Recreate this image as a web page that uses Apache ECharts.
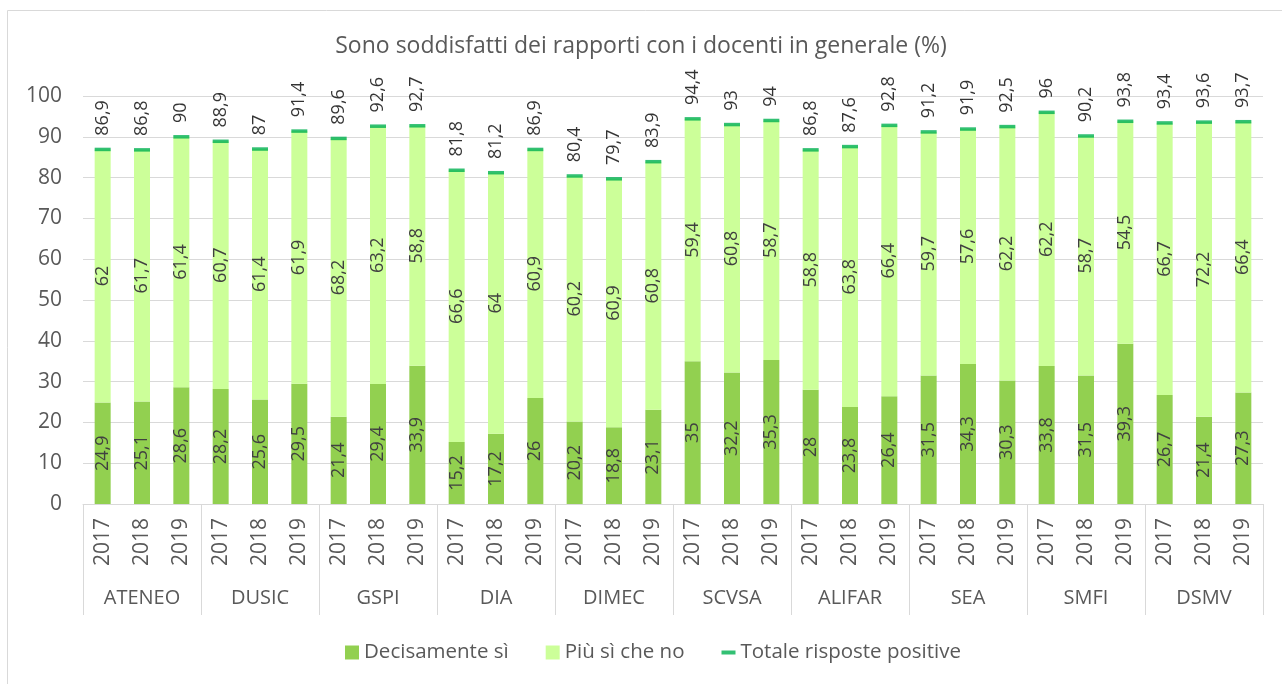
<!DOCTYPE html>
<html>
<head>
<meta charset="utf-8">
<script src="https://cdn.jsdelivr.net/npm/echarts@6/dist/echarts.min.js"></script>
<style>
  html, body { margin: 0; padding: 0; background: #fff; }
  #main { width: 1282px; height: 684px; }
</style>
</head>
<body>
<div id="main"></div>
<script>
    // dipartimenti e anni
    var groups = ['ATENEO', 'DUSIC', 'GSPI', 'DIA', 'DIMEC', 'SCVSA', 'ALIFAR', 'SEA', 'SMFI', 'DSMV'];
    var years = ['2017', '2018', '2019'];

    // valori per ogni coppia dipartimento / anno
    var decisamente = [24.9, 25.1, 28.6, 28.2, 25.6, 29.5, 21.4, 29.4, 33.9, 15.2, 17.2, 26,
        20.2, 18.8, 23.1, 35, 32.2, 35.3, 28, 23.8, 26.4, 31.5, 34.3, 30.3,
        33.8, 31.5, 39.3, 26.7, 21.4, 27.3];
    var piuSi = [62, 61.7, 61.4, 60.7, 61.4, 61.9, 68.2, 63.2, 58.8, 66.6, 64, 60.9,
        60.2, 60.9, 60.8, 59.4, 60.8, 58.7, 58.8, 63.8, 66.4, 59.7, 57.6, 62.2,
        62.2, 58.7, 54.5, 66.7, 72.2, 66.4];
    var totale = [86.9, 86.8, 90, 88.9, 87, 91.4, 89.6, 92.6, 92.7, 81.8, 81.2, 86.9,
        80.4, 79.7, 83.9, 94.4, 93, 94, 86.8, 87.6, 92.8, 91.2, 91.9, 92.5,
        96, 90.2, 93.8, 93.4, 93.6, 93.7];

    var yearLabels = [];
    groups.forEach(function () {
        years.forEach(function (y) { yearLabels.push(y); });
    });

    var FONT = 'Open Sans';
    var fmt = function (p) { return String(p.value).replace('.', ','); };

    var chartDom = document.getElementById('main');
    var myChart = echarts.init(chartDom);
    var option;

    option = {
        textStyle: { fontFamily: FONT },
        animation: false,
        title: {
            text: 'Sono soddisfatti dei rapporti con i docenti in generale (%)',
            left: 'center',
            top: 30,
            textStyle: { fontFamily: FONT, fontSize: 23, fontWeight: 'normal', color: '#595959' }
        },
        graphic: [
            {
                type: 'rect',
                shape: { x: 7.5, y: 10.5, width: 1300, height: 700 },
                style: { fill: 'none', stroke: '#d9d9d9', lineWidth: 1 },
                silent: true
            }
        ],
        legend: {
            top: 637,
            left: 340,
            itemWidth: 14,
            itemHeight: 14,
            itemGap: 37,
            textStyle: { fontFamily: FONT, fontSize: 20.5, color: '#595959' },
            data: [
                { name: 'Decisamente sì', icon: 'rect' },
                { name: 'Più sì che no', icon: 'rect' },
                { name: 'Totale risposte positive', icon: 'path://M0,0M0,5h14v4h-14zM14,14' }
            ]
        },
        grid: { left: 83, right: 19, top: 96, bottom: 180 },
        xAxis: [
            {
                type: 'category',
                data: yearLabels,
                axisLine: { lineStyle: { color: '#d9d9d9' } },
                axisTick: { show: false },
                axisLabel: {
                    interval: 0, rotate: 90, margin: 14,
                    fontFamily: FONT, fontSize: 21, color: '#595959'
                }
            },
            {
                type: 'category',
                data: groups,
                position: 'bottom',
                axisLine: { show: false },
                axisTick: { show: true, length: 111, lineStyle: { color: '#d9d9d9' } },
                axisLabel: { interval: 0, margin: 84, fontFamily: FONT, fontSize: 20, color: '#595959' }
            }
        ],
        yAxis: {
            type: 'value',
            min: 0,
            max: 100,
            interval: 10,
            axisLabel: { fontFamily: FONT, fontSize: 21, color: '#595959', margin: 21 },
            splitLine: { lineStyle: { color: '#d9d9d9' } }
        },
        series: [
            {
                name: 'Decisamente sì',
                type: 'bar',
                stack: 'tot',
                barWidth: 16,
                data: decisamente,
                itemStyle: { color: '#92d050' },
                label: {
                    show: true, position: 'inside', rotate: 90,
                    fontFamily: FONT, fontSize: 18, color: '#404040', formatter: fmt
                }
            },
            {
                name: 'Più sì che no',
                type: 'bar',
                stack: 'tot',
                barWidth: 16,
                data: piuSi,
                itemStyle: { color: '#ccff99' },
                label: {
                    show: true, position: 'inside', rotate: 90,
                    fontFamily: FONT, fontSize: 18, color: '#404040', formatter: fmt
                }
            },
            {
                name: 'Totale risposte positive',
                type: 'scatter',
                data: totale,
                symbol: 'rect',
                symbolSize: [16, 3.5],
                itemStyle: { color: '#00b050' },
                z: 5,
                label: {
                    show: true, position: 'top', distance: 12, rotate: 90,
                    align: 'left', verticalAlign: 'middle',
                    fontFamily: FONT, fontSize: 18, color: '#000', formatter: fmt
                }
            }
        ]
    };

    option && myChart.setOption(option);
</script>
</body>
</html>
